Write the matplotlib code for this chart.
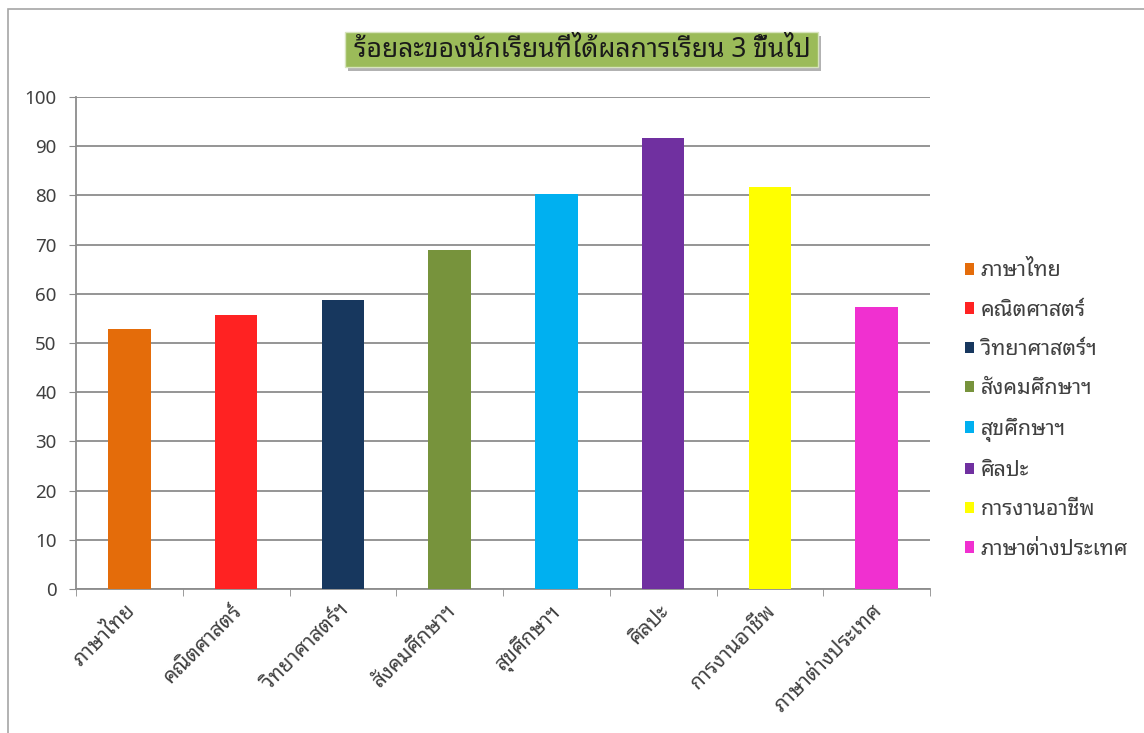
import matplotlib
matplotlib.use("Agg")
import numpy as np
import matplotlib.pyplot as plt
import matplotlib.transforms as mtransforms
from matplotlib import patheffects
from matplotlib.patches import Rectangle

plt.rcParams['font.family'] = ['Noto Sans Thai Looped', 'DejaVu Sans']

subjects = ['ภาษาไทย', 'คณิตศาสตร์', 'วิทยาศาสตร์ฯ', 'สังคมศึกษาฯ',
            'สุขศึกษาฯ', 'ศิลปะ', 'การงานอาชีพ', 'ภาษาต่างประเทศ']
percent = [52.8, 55.6, 58.8, 68.9, 80.2, 91.6, 81.8, 57.4]
colors = ['#E46C0A', '#FF2222', '#17375E', '#77933C',
          '#00B0F0', '#7030A0', '#FFFF00', '#F030D0']
title = 'ร้อยละของนักเรียนที่ได้ผลการเรียน 3 ขึ้นไป'
yticks = list(range(0, 101, 10))

fig = plt.figure(figsize=(11.44, 7.33), dpi=100)
W, H = 1144, 733

# chart area border (left and top edges are visible in the screenshot)
fig.patches.append(Rectangle((8 / W, -0.2), 1.2, 1.2 - 9 / H, transform=fig.transFigure,
                             fill=False, edgecolor='#A6A6A6', lw=1.2))

ax = fig.add_axes([76 / W, 1 - 589 / H, (930 - 76) / W, (589 - 97) / H])
x = np.arange(len(subjects))
bars = ax.bar(x, percent, width=0.4, color=colors, label=subjects, zorder=3)

ax.set_xlim(-0.5, len(subjects) - 0.5)
ax.set_ylim(0, 100)
ax.set_yticks(yticks)
ax.grid(axis='y', color='#8C8C8C', lw=1.3, zorder=0)
for s in ['top', 'right']:
    ax.spines[s].set_visible(False)
for s in ['left', 'bottom']:
    ax.spines[s].set_color('#8C8C8C')
    ax.spines[s].set_linewidth(1.3)

ax.tick_params(axis='y', length=5, color='#8C8C8C', labelsize=13.5,
               labelcolor='#404040', pad=9)
ax.set_xticks(x)
ax.set_xticklabels(subjects, rotation=45, ha='right', va='top', fontsize=15,
                   color='#404040', fontweight='medium')
ax.tick_params(axis='x', length=0, pad=8)
ax.set_xticks(np.arange(-0.5, len(subjects), 1.0), minor=True)
ax.tick_params(axis='x', which='minor', length=5, color='#8C8C8C')
shift = mtransforms.ScaledTranslation(10 / 100, 0, fig.dpi_scale_trans)
for lab in ax.get_xticklabels():
    lab.set_transform(lab.get_transform() + shift)

# title box with drop shadow
box = Rectangle((345 / W, 1 - 67 / H), 473 / W, 35 / H, transform=fig.transFigure,
                facecolor='#9BBB59', edgecolor='#D7E4BD', lw=1)
box.set_path_effects([
    patheffects.SimplePatchShadow(offset=(2, -3), shadow_rgbFace='#7F7F7F', alpha=0.6),
    patheffects.Normal()])
fig.patches.append(box)
fig.text(582 / W, 1 - 50 / H, title, ha='center', va='center',
         fontsize=19, fontweight='bold', color='#1A1A1A')

fig.legend(handles=bars, labels=subjects, loc='center left',
           bbox_to_anchor=(956 / W, 1 - 410 / H), frameon=False, fontsize=15.5,
           labelcolor='#404040', handlelength=0.45, handleheight=0.45,
           handletextpad=0.3, labelspacing=0.85, borderaxespad=0)

fig.savefig('out.png', dpi=100)
